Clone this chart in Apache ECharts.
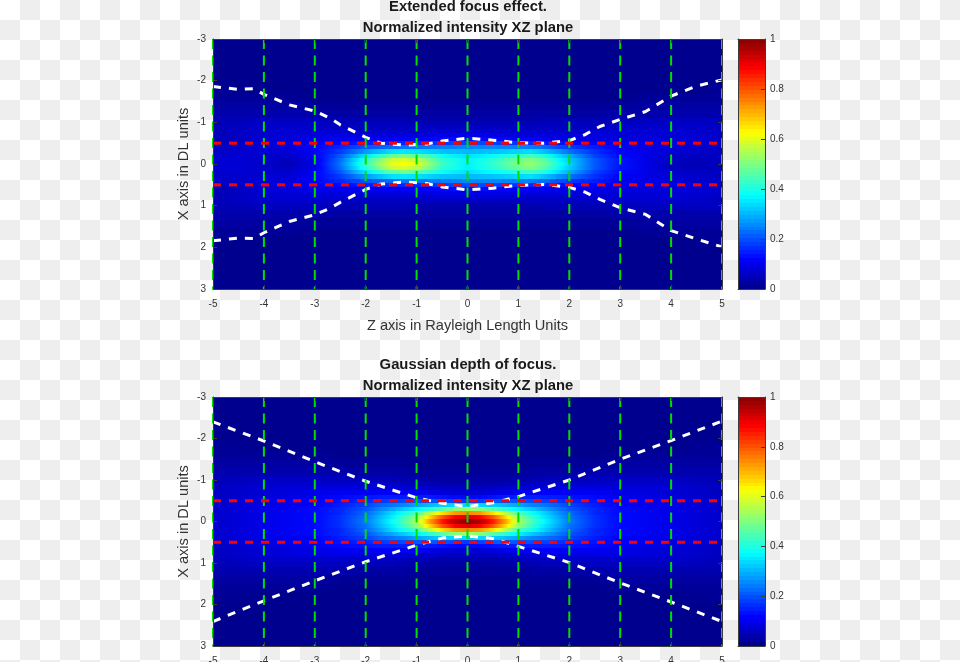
<!DOCTYPE html>
<html>
<head>
<meta charset="utf-8">
<style>
html,body{margin:0;padding:0;width:960px;height:662px;overflow:hidden;
background:repeating-conic-gradient(#eeeeee 0 25%,#ffffff 0 50%) 0 0/40px 40px;}
#c{width:960px;height:662px;}
</style>
<script src="https://cdn.jsdelivr.net/npm/echarts@6/dist/echarts.min.js"></script>
</head>
<body>
<div id="c"></div>
<script>
// ---------- data ----------
const titleTop = ['Extended focus effect.','Normalized intensity XZ plane'];
const titleBottom = ['Gaussian depth of focus.','Normalized intensity XZ plane'];
const zLabel = 'Z axis in Rayleigh Length Units';
const xLabel = 'X axis in DL units';

// distance from the axis of each intensity row (both sides of the axis)
const rowX = [0,.1,.2,.3,.4,.5,.6,.7,.8,.9,1,1.2,1.4,1.6,1.8,2.1];

// extended focus: intensity in percent, one row per rowX entry
const extZ = [-5,-4.5,-4,-3.5,-3,-2.5,-2,-1.5,-1.25,-1,-.5,0,.5,1,1.25,1.5,2,2.5,3,3.5,4,4.5,5];
const extI = [
 [7,7,6,4,9,23,43,60,63,60,43,36,42,50,52,48,33,20,13,9,5,4,5],
 [7,7,6,5,9,22,41,57,59,56,42,36,41,48,50,46,32,20,13,9,5,4,5],
 [6,7,6,6,10,20,35,47,49,47,38,34,37,42,44,40,29,18,12,9,6,5,5],
 [6,6,7,7,11,17,27,34,35,34,31,30,31,33,34,31,23,16,11,9,7,6,5],
 [5,6,7,8,11,15,20,22,23,23,24,25,25,24,24,22,17,14,10,9,8,6,6],
 [5,5,7,8,10,12,14,15,15,15,17,19,18,16,15,14,12,11,9,8,8,7,6],
 [4,5,7,8,9,10,10,11,11,11,12,13,12,11,11,10,9,9,8,8,8,7,6],
 [4,5,7,7,8,8,8,8,8,8,9,9,9,8,8,8,8,8,7,7,7,7,6],
 [4,5,6,7,7,7,6,6,6,6,7,7,7,6,6,6,6,7,7,7,7,6,5],
 [4,5,6,6,6,5,5,5,5,5,5,5,5,5,5,5,5,5,6,6,6,6,5],
 [4,4,5,5,5,4,4,4,4,3,3,3,3,3,3,4,4,4,4,5,5,5,5],
 [3,3,3,3,3,2,2,2,2,2,2,2,2,2,2,2,2,2,3,3,3,3,3],
 [2,2,2,2,1,1,1,1,1,1,1,1,1,1,1,1,1,1,1,2,2,2,2],
 [1,1,1,1,0,0,0,0,0,0,0,0,0,0,0,0,0,0,0,1,1,1,1],
 [1,0,0,0,0,0,0,0,0,0,0,0,0,0,0,0,0,0,0,0,0,0,1],
 [0,0,0,0,0,0,0,0,0,0,0,0,0,0,0,0,0,0,0,0,0,0,0]
];

// gaussian: intensity in percent
const gauZ = [-5,-4,-3,-2.5,-2,-1.75,-1.5,-1.25,-1,-.75,-.5,-.25,0,.25,.5,.75,1,1.25,1.5,1.75,2,2.5,3,4,5];
const gauI = [
 [6,9,12,16,24,30,37,45,55,72,86,96,100,96,86,72,55,45,37,30,24,16,12,9,6],
 [6,9,12,16,23,29,35,43,52,66,80,89,92,89,80,66,52,43,35,29,23,16,12,9,6],
 [6,9,12,15,22,27,33,39,45,56,66,73,75,73,66,56,45,39,33,27,22,15,12,9,6],
 [6,9,12,15,20,24,28,32,36,41,46,51,53,51,46,41,36,32,28,24,20,15,12,9,6],
 [6,9,11,14,18,21,23,25,28,30,32,33,33,33,32,30,28,25,23,21,18,14,11,9,6],
 [6,8,11,13,15,17,18,19,20,20,20,18,17,18,20,20,20,19,18,17,15,13,11,8,6],
 [5,8,10,12,13,14,14,14,14,14,13,12,12,12,13,14,14,14,14,14,13,12,10,8,5],
 [5,7,9,10,10,11,11,10,10,9,8,7,7,7,8,9,10,10,11,11,10,10,9,7,5],
 [5,7,8,8,8,8,8,7,6,6,5,5,5,5,5,6,6,7,8,8,8,8,8,7,5],
 [4,6,6,6,6,6,5,5,4,4,3,3,3,3,3,4,4,5,5,6,6,6,6,6,4],
 [4,5,5,5,4,4,4,3,3,2,2,2,2,2,2,2,3,3,4,4,4,5,5,5,4],
 [3,3,3,3,2,2,2,2,1,1,1,1,1,1,1,1,1,2,2,2,2,3,3,3,3],
 [2,2,2,1,1,1,1,1,0,0,0,0,0,0,0,0,0,1,1,1,1,1,2,2,2],
 [1,1,1,0,0,0,0,0,0,0,0,0,0,0,0,0,0,0,0,0,0,0,1,1,1],
 [1,0,0,0,0,0,0,0,0,0,0,0,0,0,0,0,0,0,0,0,0,0,0,0,1],
 [0,0,0,0,0,0,0,0,0,0,0,0,0,0,0,0,0,0,0,0,0,0,0,0,0]
];

// beam outlines (white dashes)
const extEdgeZ = [-5,-4.5,-4.2,-4,-3.5,-3,-2.7,-2.5,-2,-1.7,-1.2,-.8,-.5,0,.5,1,1.5,2,2.3,2.6,3,3.5,4,4.5,5];
const extEdgeUp = [-1.86,-1.79,-1.81,-1.67,-1.42,-1.27,-1.1,-.94,-.64,-.5,-.45,-.48,-.55,-.62,-.57,-.51,-.5,-.56,-.7,-.9,-1.07,-1.26,-1.63,-1.87,-2.02];
const extEdgeDn = [1.84,1.78,1.79,1.65,1.38,1.22,1.06,.92,.61,.48,.43,.47,.55,.62,.58,.51,.49,.56,.67,.85,1.05,1.21,1.6,1.8,1.99];
const gauEdgeZ = [-5,-4,-3,-2,-1,-.5,0,.5,1,2,3,4,5];
const gauEdgeUp = [-2.4,-1.94,-1.44,-.97,-.57,-.44,-.36,-.45,-.6,-1,-1.5,-1.95,-2.42];
const gauEdgeDn = [2.41,1.91,1.43,.97,.57,.4,.35,.41,.6,.99,1.48,1.94,2.41];
const redX = [-.5,.5];
const greenZ = [-5,-4,-3,-2,-1,0,1,2,3,4,5];

// ---------- jet colour scale ----------
const LEVELS = 64;
function jetT(v){                       // v = 0..100
  const t = Math.max(0,Math.min(1,v/100))*3.875+0.0625;
  const f = (c)=>Math.round(255*Math.max(0,Math.min(1,1.5-Math.abs(t-c))));
  return 'rgb('+f(3)+','+f(2)+','+f(1)+')';
}
function gradStops(a,b){
  if(a===b) return null;
  const s=[]; const n=Math.max(1,Math.ceil(Math.abs(b-a)/4));
  for(let i=0;i<=n;i++) s.push({offset:i/n,color:jetT(a+(b-a)*i/n)});
  return s;
}

// cells [zLo,zHi,xLo,xHi,iLo,iHi]
function buildCells(zs,table){
  const rows=[];
  const edges=[];
  for(let i=0;i<rowX.length;i++){
    const hi=i<rowX.length-1?(rowX[i]+rowX[i+1])/2:3;
    const lo=i===0?-hi:(rowX[i-1]+rowX[i])/2;
    edges.push([lo,hi]);
  }
  edges.forEach((e,i)=>{
    for(let j=0;j<zs.length-1;j++){
      rows.push([zs[j],zs[j+1],e[0],e[1],table[i][j],table[i][j+1]]);
      if(i>0) rows.push([zs[j],zs[j+1],-e[1],-e[0],table[i][j],table[i][j+1]]);
    }
  });
  return rows;
}

function renderCell(params,api){
  const p0=api.coord([api.value(0),api.value(2)]);
  const p1=api.coord([api.value(1),api.value(3)]);
  const x=Math.round(p0[0]), y=Math.round(p0[1]);
  const w=Math.round(p1[0])-x, h=Math.round(p1[1])-y;
  const a=api.value(4), b=api.value(5);
  const s=gradStops(a,b);
  const fill=s?new echarts.graphic.LinearGradient(0,0,1,0,s):jetT(a);
  return {type:'rect',shape:{x:x,y:y,width:w,height:h},style:{fill:fill},silent:true};
}

function renderBar(params,api){
  const p0=api.coord([0,api.value(0)]);
  const p1=api.coord([1,api.value(1)]);
  const y=Math.round(p1[1]);
  return {type:'rect',shape:{x:p0[0],y:y,width:p1[0]-p0[0],height:Math.round(p0[1])-y},
          style:{fill:jetT(api.value(2))},silent:true};
}

// ---------- layout ----------
const plotL=213, plotW=509, barL=738, barW=27;
const tops=[{top:39,h:250},{top:397,h:249}];
const tickFont={fontFamily:'Liberation Sans',fontSize:10,color:'#333'};
const nameFont={fontFamily:'Liberation Sans',fontSize:14.6,color:'#333'};
const lineCol='#3c3c3c';

const grids=[], xAxes=[], yAxes=[], series=[];
function frameAxes(gi,xOpt,yOpt){
  const xi=xAxes.length, yi=yAxes.length;
  const al={show:true,onZero:false,lineStyle:{color:lineCol,width:1}};
  const tk={show:true,inside:true,length:4,lineStyle:{color:lineCol,width:1}};
  xAxes.push(Object.assign({gridIndex:gi,type:'value',position:'bottom',z:6,axisLine:al,axisTick:tk,splitLine:{show:false},axisLabel:{show:false}},xOpt));
  xAxes.push(Object.assign({gridIndex:gi,type:'value',position:'top',z:6,axisLine:al,axisTick:tk,splitLine:{show:false},axisLabel:{show:false}},{min:xOpt.min,max:xOpt.max,interval:xOpt.interval,axisTick:xOpt.axisTick||tk}));
  yAxes.push(Object.assign({gridIndex:gi,type:'value',position:'left',z:6,axisLine:al,axisTick:tk,splitLine:{show:false},axisLabel:{show:false}},yOpt.left));
  yAxes.push(Object.assign({gridIndex:gi,type:'value',position:'right',z:6,axisLine:al,axisTick:tk,splitLine:{show:false},axisLabel:{show:false}},yOpt.right));
  return [xi,yi];
}

function addPlot(idx,zs,table,edgeZ,up,dn,withZName){
  const t=tops[idx];
  const gi=grids.length;
  grids.push({left:plotL,top:t.top,width:plotW,height:t.h,containLabel:false,outerBoundsMode:'none'});
  const yBase={min:-3,max:3,interval:1,inverse:true};
  const [xi,yi]=frameAxes(gi,
    Object.assign({min:-5,max:5,interval:1,
      axisLabel:Object.assign({show:true,margin:10,formatter:v=>String(v)},tickFont)},
      withZName?{name:zLabel,nameLocation:'middle',nameGap:29,nameMoveOverlap:false,nameTextStyle:nameFont}:{}),
    {left:Object.assign({},yBase,{
        axisLabel:Object.assign({show:true,margin:7,formatter:v=>String(v)},tickFont),
        name:xLabel,nameLocation:'middle',nameGap:22,nameMoveOverlap:false,nameTextStyle:nameFont}),
     right:yBase});
  series.push({type:'custom',xAxisIndex:xi,yAxisIndex:yi,coordinateSystem:'cartesian2d',
    data:buildCells(zs,table),renderItem:renderCell,encode:{x:[0,1],y:[2,3]},z:1,silent:true,animation:false,clip:true,progressive:0});

  const lineBase={type:'line',xAxisIndex:xi,yAxisIndex:yi,showSymbol:false,symbol:'none',silent:true,animation:false};
  series.push(Object.assign({},lineBase,{data:edgeZ.map((z,i)=>[z,up[i]]),z:3,lineStyle:{color:'#ffffff',width:3,type:[8,8]}}));
  series.push(Object.assign({},lineBase,{data:edgeZ.map((z,i)=>[z,dn[i]]),z:3,lineStyle:{color:'#ffffff',width:3,type:[8,8]}}));
  greenZ.forEach(z=>{
    series.push(Object.assign({},lineBase,{data:[[z,-3],[z,3]],z:4,lineStyle:{color:'#00dd00',width:2,type:[10,6.5]}}));
  });
  redX.forEach(x=>{
    series.push(Object.assign({},lineBase,{data:[[-5,x],[5,x]],z:5,lineStyle:{color:'#ff0000',width:3,type:[8,8]}}));
  });

  // colour bar
  const gb=grids.length;
  grids.push({left:barL,top:t.top,width:barW,height:t.h,outerBoundsMode:'none'});
  const barY={min:0,max:1,interval:.2};
  const [bx,by]=frameAxes(gb,
    {min:0,max:1,interval:1,axisTick:{show:false}},
    {left:Object.assign({},barY,{axisTick:{show:false}}),
     right:Object.assign({},barY,{axisLabel:Object.assign({show:true,margin:5,formatter:v=>String(+v.toFixed(1))},tickFont)})});
  const barData=[];
  for(let k=0;k<LEVELS;k++) barData.push([k/LEVELS,(k+1)/LEVELS,k/(LEVELS-1)*100]);
  series.push({type:'custom',xAxisIndex:bx,yAxisIndex:by,coordinateSystem:'cartesian2d',
    data:barData,renderItem:renderBar,encode:{y:[0,1]},z:1,silent:true,animation:false});
}

addPlot(0,extZ,extI,extEdgeZ,extEdgeUp,extEdgeDn,true);
addPlot(1,gauZ,gauI,gauEdgeZ,gauEdgeUp,gauEdgeDn,false);

function ttl(text,top){
  return {text:text,left:468,top:top,textAlign:'center',padding:0,
    textStyle:{fontFamily:'Liberation Sans',fontSize:14.8,fontWeight:'bold',color:'#1a1a1a',lineHeight:16}};
}
const chart=echarts.init(document.getElementById('c'),null,{renderer:'canvas',width:960,height:662});
chart.setOption({
  backgroundColor:'transparent',animation:false,
  title:[ttl(titleTop[0],-1),ttl(titleTop[1],20),ttl(titleBottom[0],357),ttl(titleBottom[1],378)],
  grid:grids,xAxis:xAxes,yAxis:yAxes,series:series
});
</script>
</body>
</html>
